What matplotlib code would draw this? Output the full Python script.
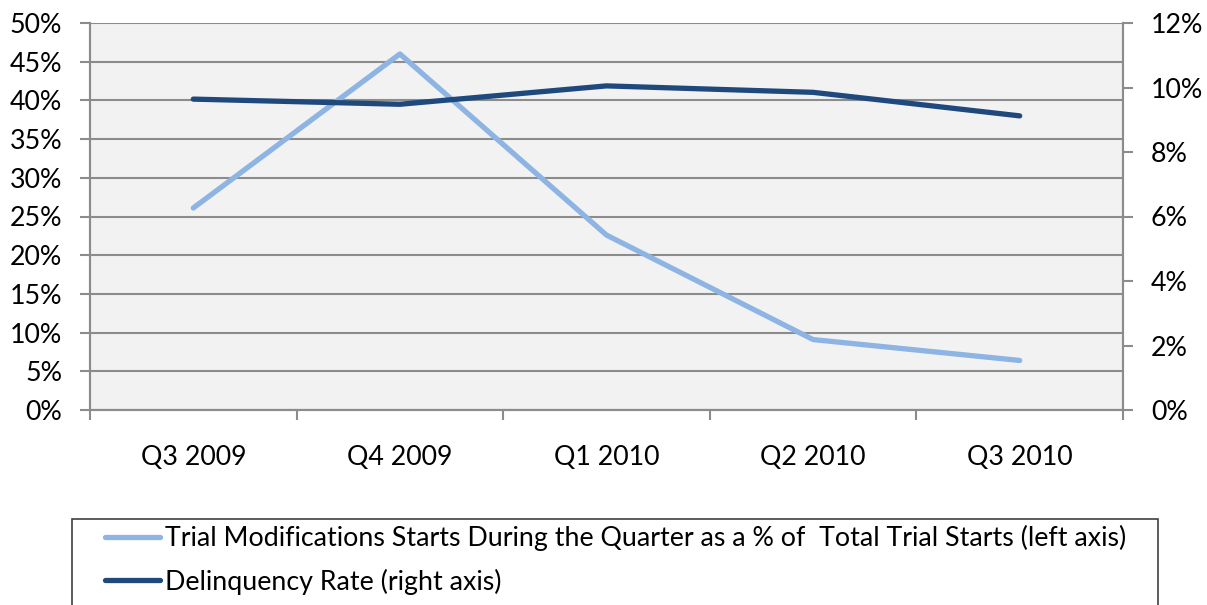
import matplotlib
matplotlib.use("Agg")
import matplotlib.pyplot as plt
from matplotlib.patches import Rectangle
from matplotlib.ticker import FuncFormatter, MultipleLocator, FixedLocator

quarters = ["Q3 2009", "Q4 2009", "Q1 2010", "Q2 2010", "Q3 2010"]
trial_starts_pct = [26.1, 46.0, 22.6, 9.1, 6.4]
delinquency_pct = [9.64, 9.48, 10.05, 9.85, 9.12]

label_trial = "Trial Modifications Starts During the Quarter as a % of  Total Trial Starts (left axis)"
label_delinq = "Delinquency Rate (right axis)"

light_blue = "#8DB4E2"
dark_blue = "#1F497D"
grid_gray = "#8C8C8C"

plt.rcParams['font.family'] = ['Lato', 'DejaVu Sans']
plt.rcParams['font.size'] = 19.3

W, H = 1207, 605
fig = plt.figure(figsize=(W/100, H/100), dpi=100)
ax = fig.add_axes([90/W, 1-410/H, (1123-90)/W, (410-23)/H])
ax2 = ax.twinx()

x = list(range(len(quarters)))
l1, = ax.plot(x, trial_starts_pct, color=light_blue, lw=3.8, solid_capstyle='round', label=label_trial)
l2, = ax2.plot(x, delinquency_pct, color=dark_blue, lw=3.8, solid_capstyle='round', label=label_delinq)

ax.set_facecolor("#F2F2F2")
ax.set_xlim(-0.5, len(quarters) - 0.5)
ax.set_ylim(0, 50)
ax2.set_ylim(0, 12)

ax.yaxis.set_major_locator(MultipleLocator(5))
ax.yaxis.set_major_formatter(FuncFormatter(lambda v, p: "%d%%" % v))
ax2.yaxis.set_major_locator(MultipleLocator(2))
ax2.yaxis.set_major_formatter(FuncFormatter(lambda v, p: "%d%%" % v))

ax.set_xticks(x)
ax.set_xticklabels(quarters)
ax.xaxis.set_minor_locator(FixedLocator([i - 0.5 for i in range(len(quarters) + 1)]))
ax.tick_params(axis='x', which='major', length=0, pad=25)
ax.tick_params(axis='x', which='minor', length=7, width=1.5, color=grid_gray)
ax.tick_params(axis='y', length=7, width=1.5, color=grid_gray, pad=13)
ax2.tick_params(axis='y', length=7, width=1.5, color=grid_gray, pad=13)

ax.grid(axis='y', color=grid_gray, lw=1.5)
ax.set_axisbelow(True)
for a in (ax, ax2):
    for s in a.spines.values():
        s.set_color(grid_gray)
        s.set_linewidth(1.5)
    a.spines['top'].set_visible(False)

# legend box (runs off the bottom edge like the original)
fig.patches.append(Rectangle((72/W, -0.05), (1158-72)/W, 0.05 + 1-519/H,
                             transform=fig.transFigure, fill=False,
                             edgecolor="#404040", lw=1.2))
leg = fig.legend(handles=[l1, l2], loc='upper left',
                 bbox_to_anchor=(105/W, 1-525/H),
                 frameon=False, fontsize=19.3,
                 handlelength=2.05, handletextpad=0.2, labelspacing=0.65,
                 borderpad=0, borderaxespad=0)

fig.savefig("out.png", dpi=100)
